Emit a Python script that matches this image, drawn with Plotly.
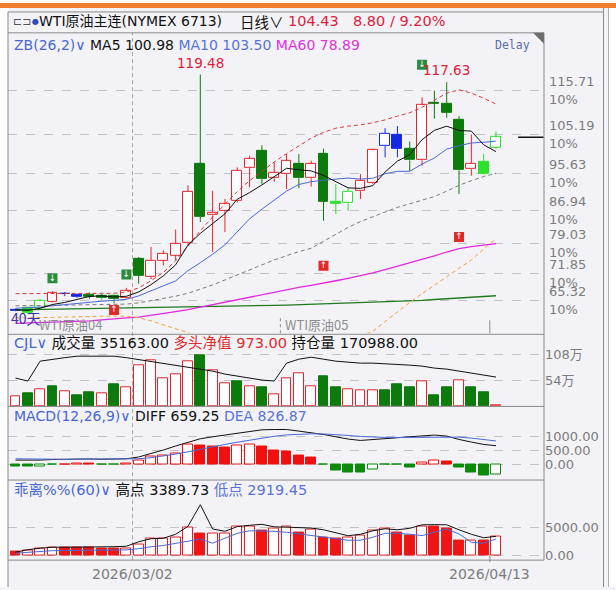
import plotly.graph_objects as go

W, H = 616, 590

# ---------------- data ----------------
open_p = [63.0, 63.4, 63.5, 65.0, 66.9, 66.6, 66.7, 66.5, 66.3, 65.8,
          75.3, 70.9, 74.9, 76.1, 79.0, 98.0, 85.7, 86.8, 89.2, 97.0,
          101.1, 94.6, 95.6, 98.0, 94.6, 100.4, 88.9, 88.6, 91.5, 93.4,
          102.3, 105.1, 101.6, 98.9, 112.7, 112.5, 108.7, 96.8, 98.6, 101.8]
high_p = [63.3, 63.6, 65.6, 67.5, 67.3, 66.9, 67.2, 66.8, 66.6, 68.3,
          75.7, 78.1, 77.3, 82.3, 92.9, 119.48, 91.6, 89.6, 97.2, 100.0,
          102.5, 98.4, 100.4, 100.4, 98.8, 101.7, 93.2, 92.5, 95.6, 101.6,
          106.6, 107.1, 103.4, 114.0, 115.6, 117.63, 109.5, 105.1, 100.5, 105.8]
low_p = [62.7, 62.0, 63.2, 64.8, 66.3, 65.9, 65.7, 65.5, 64.6, 65.6,
         69.3, 70.4, 73.7, 74.9, 78.6, 84.1, 76.9, 81.7, 88.8, 92.4,
         93.2, 93.7, 92.0, 92.2, 92.6, 84.4, 86.0, 86.8, 89.6, 93.2,
         99.6, 99.6, 96.4, 97.6, 108.9, 109.1, 90.8, 95.2, 95.5, 101.6]
close_p = [62.9, 62.2, 65.1, 67.0, 66.8, 66.1, 66.2, 65.8, 65.6, 67.7,
           71.3, 74.9, 76.4, 78.9, 91.3, 85.3, 86.4, 88.4, 96.4, 99.3,
           94.4, 96.0, 98.8, 94.6, 98.0, 89.0, 88.5, 91.3, 94.0, 101.3,
           105.3, 101.6, 98.9, 112.1, 112.5, 110.3, 96.5, 98.1, 95.63, 104.43]
blue_idx = [0, 4, 5, 30, 31]
lime_idx = [1, 2, 26, 27, 38, 39]

ma5 = [63.0, 62.9, 63.4, 64.3, 64.8, 65.44, 66.24, 66.38, 66.1, 66.28,
       67.32, 69.06, 71.18, 73.84, 78.56, 81.36, 83.66, 86.06, 89.56, 91.16,
       92.98, 94.9, 96.98, 96.62, 96.36, 95.28, 93.78, 92.28, 92.16, 92.82,
       96.08, 98.7, 100.22, 103.84, 106.08, 107.08, 106.06, 105.9, 102.61, 100.98]
ma10 = [63.4, 63.5, 63.7, 64.0, 64.3, 64.6, 64.9, 65.1, 65.3, 65.54,
        66.38, 67.65, 68.78, 69.97, 72.42, 74.34, 76.36, 78.62, 81.7, 84.86,
        87.17, 89.28, 91.52, 93.09, 93.76, 94.13, 94.34, 94.63, 94.39, 94.59,
        95.68, 96.24, 96.25, 98.0, 99.45, 101.58, 102.38, 103.06, 103.22, 103.50]
ma60 = [59.8, 59.9, 59.9, 60.0, 60.1, 60.2, 60.4, 60.6, 60.9, 61.1,
        61.3, 61.7, 62.2, 62.6, 63.1, 63.7, 64.3, 64.9, 65.5, 66.1,
        66.7, 67.2, 67.8, 68.4, 68.9, 69.4, 70.0, 70.6, 71.2, 71.9,
        72.7, 73.5, 74.3, 75.1, 76.0, 76.9, 77.7, 78.2, 78.6, 78.89]
ma_long = [63.0, 63.05, 63.1, 63.1, 63.15, 63.2, 63.2, 63.25, 63.3, 63.35,
           63.4, 63.45, 63.5, 63.55, 63.65, 63.7, 63.8, 63.85, 63.9, 64.0,
           64.05, 64.1, 64.15, 64.25, 64.3, 64.4, 64.5, 64.6, 64.7, 64.8,
           64.9, 65.0, 65.1, 65.3, 65.5, 65.7, 65.9, 66.1, 66.25, 66.4]
band_up = [66.9, 66.9, 66.9, 67.0, 67.0, 67.0, 67.0, 67.0, 67.0, 67.3,
           68.3, 70.0, 72.0, 74.8, 78.5, 82.0, 85.3, 88.4, 91.4, 94.0,
           96.3, 98.5, 100.5, 102.4, 104.2, 105.6, 106.6, 107.1, 107.4, 107.9,
           108.6, 109.5, 110.3, 111.6, 113.3, 115.0, 115.8, 115.0, 113.8, 112.4]
band_mid = [64.0, 64.0, 64.05, 64.1, 64.15, 64.2, 64.25, 64.3, 64.35, 64.4,
            64.7, 65.2, 65.7, 66.3, 67.0, 68.0, 69.0, 70.2, 71.4, 72.6,
            73.8, 75.0, 76.0, 77.0, 77.8, 79.5, 81.2, 82.8, 84.2, 85.4,
            86.5, 87.6, 88.5, 89.3, 90.2, 91.5, 92.9, 94.0, 95.0, 95.8]
band_low = [61.1, 61.1, 61.2, 61.2, 61.3, 61.3, 61.4, 61.5, 61.5, 61.5,
            61.1, 60.4, 59.4, 58.5, 57.6, 56.0, 54.5, 53.0, 51.5, 50.8,
            50.5, 50.8, 51.3, 52.0, 52.8, 53.6, 54.6, 55.6, 56.7, 57.9,
            60.2, 62.6, 64.8, 66.9, 68.9, 70.9, 73.0, 75.0, 77.6, 80.1]
buy_idx = [8, 25, 36]
buy_pos = [63.0, 73.6, 80.5]
sell_idx = [3, 9, 33]
sell_pos = [70.6, 71.5, 121.8]
grid_levels = [65.32, 71.85, 79.03, 86.94, 95.63, 105.19, 115.71]
last_price = 104.43

volume = [218000, 279000, 361000, 423000, 320000, 238000, 300000, 279000, 464000, 402000,
          854000, 957000, 587000, 669000, 936000, 1060000, 751000, 485000, 526000, 423000,
          402000, 259000, 587000, 690000, 423000, 628000, 402000, 361000, 341000, 341000,
          341000, 464000, 402000, 526000, 238000, 402000, 546000, 402000, 300000, 35163]
vol_up = [1, 0, 1, 0, 1, 0, 0, 1, 0, 1,
          1, 1, 1, 1, 1, 0, 1, 1, 0, 1,
          0, 1, 1, 1, 1, 0, 0, 1, 1, 1,
          0, 0, 0, 1, 0, 0, 1, 0, 0, 1]
open_int = [587000, 526000, 936000, 977000, 1008000, 1039000, 1039000, 1039000, 1039000, 1008000,
            967000, 936000, 895000, 854000, 813000, 772000, 731000, 669000, 628000, 587000,
            546000, 526000, 895000, 977000, 1018000, 977000, 936000, 916000, 895000, 895000,
            885000, 875000, 854000, 834000, 793000, 772000, 731000, 690000, 649000, 608000]
vol_ticks = [540000, 1080000]
vol_tick_text = ["54万", "108万"]

macd_hist = [-90, -95, -60, -15, 10, 45, 20, -10, -12, 25,
             120, 260, 296, 377, 690, 670, 623, 588, 683, 704,
             623, 493, 447, 296, 236, -21, -211, -292, -300, -176,
             -21, -18, -116, 60, 141, 95, -116, -292, -408, -352]
diff = [150, 140, 150, 170, 185, 195, 190, 180, 180, 195,
        260, 377, 507, 648, 764, 905, 975, 1035, 1092, 1176,
        1222, 1232, 1232, 1176, 1127, 1056, 975, 894, 845, 870,
        905, 940, 975, 1000, 1035, 1000, 880, 789, 704, 659.25]
dea = [195, 185, 180, 177, 178, 182, 184, 183, 182, 183,
       198, 234, 289, 361, 442, 535, 623, 705, 782, 861,
       933, 993, 1041, 1068, 1080, 1075, 1055, 1023, 987, 964,
       952, 950, 955, 964, 978, 982, 962, 927, 882, 826.87]
macd_ticks = [0, 500, 1000]

bias = [760, 883, 1166, 1466, 1440, 1420, 1400, 1290, 1280, 1300,
        1943, 2933, 2950, 3233, 5000, 3816, 3940, 3960, 5124, 5140,
        4417, 4823, 5124, 4117, 4523, 3110, 2933, 3233, 3533, 4417,
        4700, 4117, 3533, 5124, 5050, 4700, 2650, 2700, 2620, 3357]
bias_high = [583, 1025, 1290, 1466, 1466, 1466, 1466, 1466, 1555, 1643,
             2438, 2968, 3057, 3763, 5177, 9011, 4700, 4293, 5124, 5353,
             5530, 5088, 5000, 4912, 4876, 4558, 4028, 3498, 3763, 4382,
             4735, 4558, 4823, 5442, 5477, 5442, 4558, 3763, 3145, 3389.73]
bias_low = [406, 583, 760, 848, 883, 883, 936, 936, 936, 989,
            1201, 1555, 1767, 2085, 2527, 2933, 2173, 3057, 3940, 4382,
            4382, 4293, 4117, 3852, 3498, 3233, 2933, 2703, 2703, 3233,
            3940, 3940, 3763, 3534, 4117, 4700, 3816, 2350, 2173, 2919.45]
bias_ticks = [0, 5000]

date_idx = [10, 39]
date_text = ["2026/03/02", "2026/04/13"]

# ---------------- style ----------------
BG = "#f3f3f7"
HOLLOW = "#fdfdff"
RED = "#e0262c"
GREEN = "#0c7a0c"
LIME = "#2ee02e"
BLUE = "#1428e6"
GRID = "#c2c2c8"
FRAME = "#8a8a8a"
LABEL = "#7c7c7c"
FONT = "DejaVu Sans, Noto Sans CJK SC, sans-serif"
CJK = "Noto Sans CJK SC, DejaVu Sans, sans-serif"


def px(x):
    return x / W


def py(y):
    return 1 - y / H


n = len(close_p)
xs = list(range(n))
# pixel geometry -> axis ranges (12.32 px per candle, first candle centre at x=15.5 px)
X0 = (8 - 15.5) / 12.32
X1 = (544 - 15.5) / 12.32

fig = go.Figure()

# ---------- candles ----------
ccol, cfill = [], []
for i in xs:
    up = close_p[i] > open_p[i]
    if i in blue_idx:
        c = BLUE
    elif i in lime_idx:
        c = LIME
    else:
        c = RED if up else GREEN
    ccol.append(c)
    cfill.append(HOLLOW if up else c)

wick = {}
for i in xs:
    top = max(open_p[i], close_p[i])
    bot = min(open_p[i], close_p[i])
    d = wick.setdefault(ccol[i], ([], []))
    d[0].extend([i, i, None, i, i, None])
    d[1].extend([low_p[i], bot, None, top, high_p[i], None])
for c, (wx, wy) in wick.items():
    fig.add_trace(go.Scatter(x=wx, y=wy, mode="lines", line=dict(color=c, width=1),
                             yaxis="y", hoverinfo="skip"))

fig.add_trace(go.Bar(
    x=xs,
    base=[min(o, c) for o, c in zip(open_p, close_p)],
    y=[max(abs(c - o), 0.12) for o, c in zip(open_p, close_p)],
    width=0.8, marker=dict(color=cfill, line=dict(color=ccol, width=1)),
    yaxis="y", hoverinfo="skip"))

# ---------- main lines ----------
def line(y, color, width=1.0, dash=None, axis="y"):
    fig.add_trace(go.Scatter(x=xs, y=y, mode="lines", yaxis=axis, hoverinfo="skip",
                             line=dict(color=color, width=width, dash=dash)))


line(ma_long, "#1f7a1f", 1.3)
line(ma60, "#e028e0", 1.3)
line(band_mid, "#7a7a7a", 1.0, "4px,3px")
line(band_low, "#f0a040", 1.0, "4px,3px")
line(band_up, "#d23a3a", 1.0, "4px,3px")
line(ma10, "#4a68d6", 1.0)
line(ma5, "#101010", 1.0)

# signal markers
fig.add_trace(go.Scatter(x=buy_idx, y=buy_pos, mode="markers+text", yaxis="y",
                         marker=dict(symbol="square", size=10, color="#e02a2a"),
                         text=["↑"] * len(buy_idx), textposition="middle center",
                         textfont=dict(color="white", size=9, family=FONT), hoverinfo="skip"))
fig.add_trace(go.Scatter(x=sell_idx, y=sell_pos, mode="markers+text", yaxis="y",
                         marker=dict(symbol="square", size=10, color="#2c8c3c"),
                         text=["↓"] * len(sell_idx), textposition="middle center",
                         textfont=dict(color="white", size=9, family=FONT), hoverinfo="skip"))

# ---------- volume ----------
fig.add_trace(go.Bar(
    x=xs, y=volume, width=0.8, yaxis="y2", hoverinfo="skip",
    marker=dict(color=[HOLLOW if u else GREEN for u in vol_up],
                line=dict(color=[RED if u else GREEN for u in vol_up], width=1))))
line(open_int, "#111111", 1.0, axis="y2")

# ---------- MACD ----------
mcol, mfill = [], []
for i, v in enumerate(macd_hist):
    rising = i > 0 and v > macd_hist[i - 1]
    if v >= 0:
        mcol.append("#f01010")
        mfill.append(HOLLOW if rising else "#f01010")
    else:
        mcol.append("#0c8a0c")
        mfill.append(HOLLOW if rising else "#0c8a0c")
fig.add_trace(go.Bar(x=xs, y=macd_hist, width=0.8, yaxis="y3", hoverinfo="skip",
                     marker=dict(color=mfill, line=dict(color=mcol, width=1))))
line(diff, "#111111", 1.0, axis="y3")
line(dea, "#4a68d6", 1.0, axis="y3")

# ---------- bias ----------
bfill = []
for i, v in enumerate(bias):
    rising = i > 0 and v > bias[i - 1]
    bfill.append(HOLLOW if rising else "#f01414")
fig.add_trace(go.Bar(x=xs, y=bias, width=0.8, yaxis="y4", hoverinfo="skip",
                     marker=dict(color=bfill, line=dict(color="#e02020", width=1))))
line(bias_high, "#111111", 1.0, axis="y4")
line(bias_low, "#4a68d6", 1.0, axis="y4")

# ---------- axes ----------
def vmain(y):
    return (575.5 - y) / 4.19


axis_common = dict(showline=False, zeroline=False, ticks="", fixedrange=True,
                   gridcolor=GRID, griddash="dash", gridwidth=1,
                   tickfont=dict(family=FONT, size=13, color=LABEL))

fig.update_layout(
    width=W, height=H, margin=dict(l=0, r=0, t=0, b=0),
    paper_bgcolor=BG, plot_bgcolor=BG, showlegend=False, barmode="overlay",
    bargap=0,
    xaxis=dict(domain=[px(8), px(544)], range=[X0, X1], visible=False, fixedrange=True),
    yaxis=dict(domain=[py(335), py(33)], range=[vmain(335), vmain(33)],
               tickvals=grid_levels, showticklabels=False, anchor="x", **axis_common),
    yaxis2=dict(domain=[py(408.6), py(336)], range=[0, (408.6 - 336) / 26.3 * 540000],
                tickvals=vol_ticks, ticktext=vol_tick_text, side="right", anchor="x",
                **axis_common),
    yaxis3=dict(domain=[py(482), py(408.6)],
                range=[(466.7 - 482) / 0.0284, (466.7 - 408.6) / 0.0284],
                tickvals=macd_ticks, ticktext=[f"{v:.2f}" for v in macd_ticks],
                side="right", anchor="x", **axis_common),
    yaxis4=dict(domain=[py(563), py(483)],
                range=[(558.3 - 563) / 0.00566, (558.3 - 483) / 0.00566],
                tickvals=bias_ticks, ticktext=[f"{v:.2f}" for v in bias_ticks],
                side="right", anchor="x", **axis_common),
)

# ---------- shapes ----------
shapes = []


def pline(x0, y0, x1, y1, color=FRAME, width=1, dash=None):
    shapes.append(dict(type="line", xref="paper", yref="paper",
                       x0=px(x0), y0=py(y0), x1=px(x1), y1=py(y1),
                       line=dict(color=color, width=width, dash=dash), layer="above"))


# white outer strips and orange top band
shapes.append(dict(type="rect", xref="paper", yref="paper", x0=0, x1=1, y0=py(3), y1=1,
                   fillcolor="white", line_width=0, layer="below"))
shapes.append(dict(type="rect", xref="paper", yref="paper", x0=0, x1=1, y0=py(8), y1=py(3),
                   fillcolor="#f07e2c", line_width=0, layer="above"))
shapes.append(dict(type="rect", xref="paper", yref="paper", x0=0, x1=px(7.5), y0=0, y1=py(8),
                   fillcolor="white", line_width=0, layer="below"))
shapes.append(dict(type="rect", xref="paper", yref="paper", x0=px(609), x1=1, y0=0, y1=py(8),
                   fillcolor="white", line_width=0, layer="below"))

# frames
pline(8, 12, 604, 12)
pline(8, 12, 8, 590)
pline(603.5, 8, 603.5, 590)
pline(608.5, 8, 608.5, 590, color="#b0b0b0")
pline(8, 33, 544, 33)
pline(544, 33, 544, 563)
pline(8, 336, 544, 336)
pline(8, 408.5, 544, 408.5)
pline(8, 482.5, 544, 482.5)
pline(8, 563, 544, 563)

# dog-ear at top right of main panel
shapes.append(dict(type="path", xref="paper", yref="paper",
                   path=f"M {px(533)},{py(33)} L {px(544)},{py(33)} L {px(544)},{py(44)} Z",
                   fillcolor="#6e6e6e", line_width=0, layer="above"))

# month divider (between candles) and last-date ticks
shapes.append(dict(type="line", xref="x", yref="paper", x0=date_idx[0] - 0.5, x1=date_idx[0] - 0.5,
                   y0=py(563), y1=py(33), line=dict(color="#a8a8a8", width=1, dash="4px,3px"),
                   layer="below"))
for y0, y1 in [(322, 335), (558, 565)]:
    shapes.append(dict(type="line", xref="x", yref="paper", x0=date_idx[1] - 0.5,
                       x1=date_idx[1] - 0.5, y0=py(y1), y1=py(y0),
                       line=dict(color="#8a8a8a", width=1), layer="above"))
# contract roll marker
shapes.append(dict(type="line", xref="x", yref="paper", x0=21.5, x1=21.5, y0=py(335), y1=py(318),
                   line=dict(color="#8a8a8a", width=1, dash="dot"), layer="above"))
# last-price stub on the right
shapes.append(dict(type="line", xref="x", yref="y", x0=40.8, x1=42.85, y0=last_price, y1=last_price,
                   line=dict(color="#111111", width=1.5), layer="above"))

fig.update_layout(shapes=shapes)

# ---------- annotations ----------
ann = []


def text(x, y, t, size=14, color="#111", family=FONT, xanchor="left", **kw):
    ann.append(dict(x=px(x), y=py(y), xref="paper", yref="paper", text=t, showarrow=False,
                    xanchor=xanchor, yanchor="middle",
                    font=dict(size=size, color=color, family=family), **kw))


def sp(t, c):
    return f"<span style='color:{c}'>{t}</span>"


# header
text(11, 21.5, "⊏⊐", 11, "#555555")
text(30, 21.5, "●", 8, "#2a4dc0")
text(37, 21.5, "WTI原油主连(NYMEX 6713)", 14, "#111111", FONT)
text(238, 21.5, "日线∨", 14.5, "#111111", CJK)
text(286, 21.5, "104.43", 14.5, "#e0203a")
text(351, 21.5, "8.80 / 9.20%", 14.5, "#e0203a")

BL = "#4a66d0"
text(12, 45, sp("ZB(26,2)∨", BL) + " " + sp("MA5 100.98", "#111") + " " +
     sp("MA10 103.50", "#5a72d8") + " " + sp("MA60 78.89", "#e030e0"), 14)
text(493, 45, "Delay", 11.5, "#5a6ea8", "DejaVu Sans Mono, monospace")
text(12, 344, sp("CJL∨", BL) + " " + sp("成交量 35163.00", "#111") + " " +
     sp("多头净值 973.00", "#e02a2a") + " " + sp("持仓量 170988.00", "#111"), 14.5)
text(12, 418, sp("MACD(12,26,9)∨", BL) + " " + sp("DIFF 659.25", "#111") + " " +
     sp("DEA 826.87", "#5a72d8"), 14)
text(12, 493, sp("乖离%%(60)∨", BL) + " " + sp("高点 3389.73", "#111") + " " +
     sp("低点 2919.45", "#5a72d8"), 14.5)

text(9, 320, "40天", 14, "#3a2fb0", CJK)
text(37, 326, "WTI原油04", 13, "#8e8e8e", CJK)
text(283, 326, "WTI原油05", 13, "#8e8e8e", CJK)

# high labels
for i in [15, 35]:
    ann.append(dict(x=i, y=high_p[i], xref="x", yref="y", text=f"{high_p[i]:.2f}",
                    showarrow=False, yanchor="bottom", yshift=2,
                    font=dict(size=13.5, color="#e0203a", family=FONT)))

# right-hand price levels
for v in grid_levels:
    for t, shift in [(f"{v:.2f}", 9), ("10%", -9)]:
        ann.append(dict(x=px(547), y=v, xref="paper", yref="y", text=t, showarrow=False,
                        xanchor="left", yanchor="middle", yshift=shift,
                        font=dict(size=13, color=LABEL, family=FONT)))

# dates
for i, t in zip(date_idx, date_text):
    ann.append(dict(x=i - 0.5, y=py(577), xref="x", yref="paper", text=t, showarrow=False,
                    xanchor="center", yanchor="middle",
                    font=dict(size=14, color=LABEL, family=FONT)))

fig.update_layout(annotations=ann)
fig.write_html("out.html", config={"displayModeBar": False},
               post_script="document.body.style.margin='0';document.body.style.overflow='hidden';")
